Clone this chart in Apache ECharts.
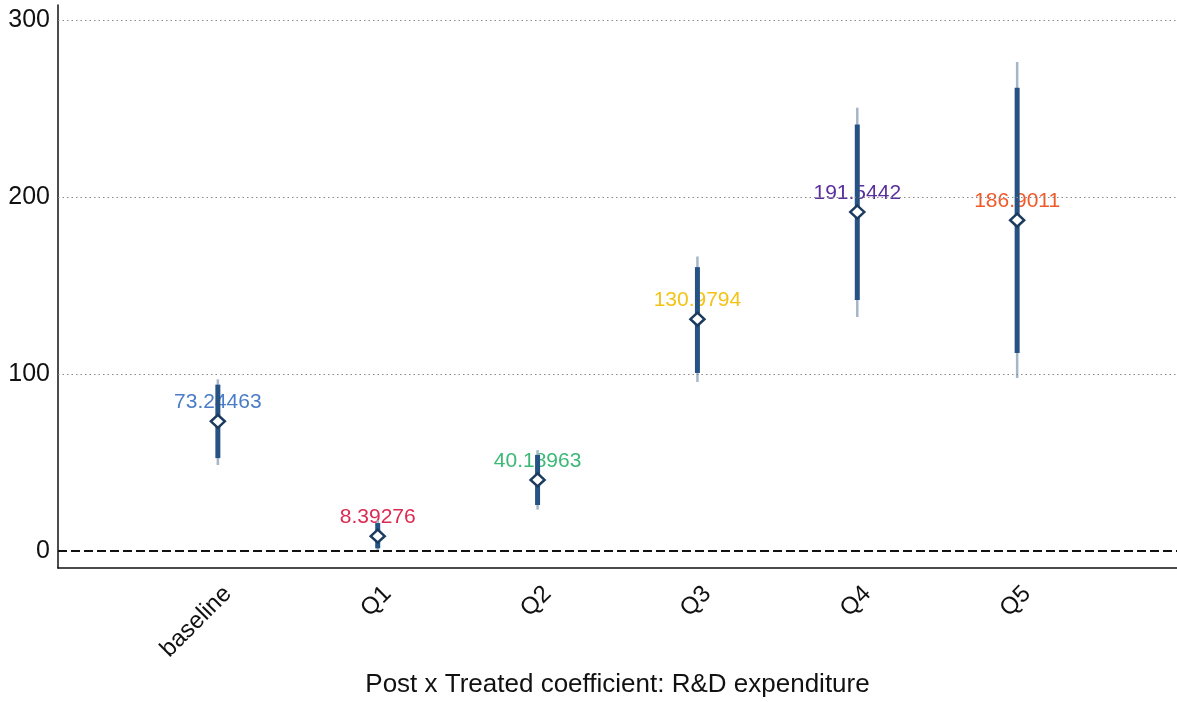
<!DOCTYPE html>
<html>
<head>
<meta charset="utf-8">
<script src="https://cdn.jsdelivr.net/npm/echarts@6/dist/echarts.min.js"></script>
<style>
  html, body { margin: 0; padding: 0; background: #fff; }
  #chart { width: 1177px; height: 702px; }
</style>
</head>
<body>
<div id="chart"></div>
<script>
// Groups on the x axis
const categories = ['baseline', 'Q1', 'Q2', 'Q3', 'Q4', 'Q5'];
// Point estimates of the Post x Treated coefficient
const coef = [73.24463, 8.39276, 40.18963, 130.9794, 191.5442, 186.9011];
// Inner (thick) confidence band
const ciInnerLow = [52.5, 1.5, 26.0, 100.6, 141.8, 111.9];
const ciInnerHigh = [94.0, 15.8, 54.3, 160.4, 241.0, 261.7];
// Outer (thin) confidence band
const ciOuterLow = [48.6, -0.5, 23.4, 95.5, 132.2, 97.7];
const ciOuterHigh = [97.0, 17.3, 57.0, 166.4, 250.5, 276.3];
// Value labels and their colours
const labelColors = ['#4a7dc8', '#dc2a52', '#3cb877', '#f3c316', '#5a2e9d', '#f05a2a'];
// Y axis tick labels and reference lines
const yTicks = [0, 100, 200, 300];
const gridLevels = [100, 200, 300];
const xAxisTitle = 'Post x Treated coefficient: R&D expenditure';

const FONT = "'Liberation Sans', Arial, Helvetica, sans-serif";

// Empty slots at both ends give the outer padding of the axis
const xSlots = [''].concat(categories, ['']);
const pos = categories.map((c, i) => i + 1);

const barData = pos.map((x, i) => [x, ciOuterLow[i], ciOuterHigh[i], ciInnerLow[i], ciInnerHigh[i]]);
const pointData = pos.map((x, i) => [x, coef[i]]);
const labelData = pos.map((x, i) => ({
  value: [x, coef[i]],
  label: { color: labelColors[i] }
}));

const chart = echarts.init(document.getElementById('chart'), null, { renderer: 'canvas' });

chart.setOption({
  animation: false,
  backgroundColor: '#ffffff',
  grid: {
    left: 58, right: 0, top: 5, bottom: 134,
    containLabel: false,
    outerBoundsMode: 'none'
  },
  xAxis: {
    type: 'category',
    data: xSlots,
    boundaryGap: false,
    name: xAxisTitle,
    nameLocation: 'middle',
    nameGap: 104,
    nameMoveOverlap: false,
    nameTextStyle: { fontFamily: FONT, fontSize: 26, color: '#111' },
    axisLine: { show: true, onZero: false, lineStyle: { color: '#111', width: 1.5 } },
    axisTick: { show: false },
    splitLine: { show: false },
    axisLabel: {
      interval: 0,
      rotate: 45,
      margin: 32,
      padding: [0, -14, 0, 0],
      fontFamily: FONT,
      fontSize: 24,
      color: '#111'
    }
  },
  yAxis: {
    type: 'value',
    min: -9.6,
    max: 308.5,
    axisLine: { show: true, lineStyle: { color: '#111', width: 1.5 } },
    axisTick: { show: false },
    splitLine: { show: false },
    axisLabel: {
      customValues: yTicks,
      margin: 8,
      padding: [5, 0, 0, 0],
      fontFamily: FONT,
      fontSize: 25,
      color: '#111'
    }
  },
  series: [
    {
      // reference lines: dotted grid and dashed zero line
      type: 'line',
      data: [],
      silent: true,
      z: 1,
      markLine: {
        silent: true,
        symbol: 'none',
        label: { show: false },
        data: gridLevels.map(v => ({
          yAxis: v,
          lineStyle: { type: [1.5, 3], color: '#8a8a8a', width: 1.2 }
        })).concat([{
          yAxis: 0,
          lineStyle: { type: [9, 4], color: '#111', width: 1.8 }
        }])
      }
    },
    {
      // value labels sit under the bars
      type: 'scatter',
      data: labelData,
      symbolSize: 1,
      itemStyle: { color: 'transparent', opacity: 1 },
      silent: true,
      z: 2,
      label: {
        show: true,
        position: 'inside',
        offset: [0, -19],
        fontFamily: FONT,
        fontSize: 21,
        opacity: 1,
        formatter: p => String(p.value[1])
      }
    },
    {
      // confidence intervals: thin outer band, thick inner band
      type: 'custom',
      data: barData,
      z: 3,
      silent: true,
      renderItem: function (params, api) {
        const x = api.value(0);
        const o1 = api.coord([x, api.value(1)]);
        const o2 = api.coord([x, api.value(2)]);
        const i1 = api.coord([x, api.value(3)]);
        const i2 = api.coord([x, api.value(4)]);
        return {
          type: 'group',
          children: [
            {
              type: 'line',
              shape: { x1: o1[0], y1: o1[1], x2: o2[0], y2: o2[1] },
              style: { stroke: '#a6b6c9', lineWidth: 2.5 }
            },
            {
              type: 'line',
              shape: { x1: i1[0], y1: i1[1], x2: i2[0], y2: i2[1] },
              style: { stroke: '#275384', lineWidth: 5 }
            }
          ]
        };
      }
    },
    {
      // point estimates
      type: 'scatter',
      data: pointData,
      symbol: 'diamond',
      symbolSize: [14, 13],
      z: 4,
      silent: true,
      itemStyle: { color: '#ffffff', borderColor: '#1c3b5f', borderWidth: 2.5, opacity: 1 }
    }
  ]
});
</script>
</body>
</html>
